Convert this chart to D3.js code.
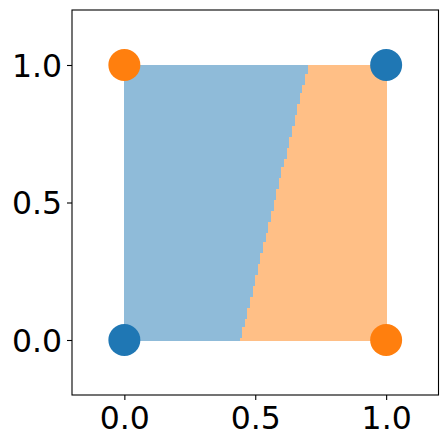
<!DOCTYPE html>
<html><head><meta charset="utf-8">
<script src="https://cdn.jsdelivr.net/npm/d3@7"></script>
<style>body{margin:0;background:#fff}svg{display:block}</style>
</head><body>
<script>
// Data
const pointsX = [0, 1, 0, 1];
const pointsY = [0, 1, 1, 0];
const pointsClass = [0, 0, 1, 1];
const classColors = ["#1f77b4", "#ff7f0e"];
const regionColors = ["#8fbbd9", "#ffbf86"];
// decision boundary: x at y=0 and y=1
const boundaryX0 = 0.443;
const boundaryX1 = 0.702;
const gridStep = 0.01;
const xTicks = [0.0, 0.5, 1.0];
const yTicks = [0.0, 0.5, 1.0];

const W = 448, H = 448;
const svg = d3.select("body").append("svg").attr("width", W).attr("height", H);
const x = d3.scaleLinear().domain([-0.2, 1.2]).range([72, 438.5]);
const y = d3.scaleLinear().domain([-0.2, 1.2]).range([395, 10]);

// grid cells
const n = Math.round(1 / gridStep);
const cells = [];
for (let j = 0; j < n; j++) {
  for (let i = 0; i < n; i++) {
    const cx = (i + 0.5) * gridStep, cy = (j + 0.5) * gridStep;
    const bx = boundaryX0 + (boundaryX1 - boundaryX0) * cy;
    cells.push({x0: i * gridStep, y0: j * gridStep, c: cx < bx ? 0 : 1});
  }
}
svg.append("g").attr("shape-rendering", "crispEdges").selectAll("rect").data(cells).join("rect")
  .attr("x", d => x(d.x0))
  .attr("y", d => y(d.y0 + gridStep))
  .attr("width", d => x(d.x0 + gridStep) - x(d.x0) + 0.5)
  .attr("height", d => y(d.y0) - y(d.y0 + gridStep) + 0.5)
  .attr("fill", d => regionColors[d.c]);

// points
svg.append("g").selectAll("circle").data(pointsX.map((v, i) => ({x: v, y: pointsY[i], c: pointsClass[i]})))
  .join("circle")
  .attr("cx", d => x(d.x)).attr("cy", d => y(d.y)).attr("r", 16)
  .attr("fill", d => classColors[d.c]);

// axes
const font = "DejaVu Sans";
const xAxis = d3.axisBottom(x).tickValues(xTicks).tickFormat(d3.format(".1f")).tickSize(5).tickPadding(5);
const yAxis = d3.axisLeft(y).tickValues(yTicks).tickFormat(d3.format(".1f")).tickSize(5).tickPadding(5);
const gx = svg.append("g").attr("transform", `translate(0,${y(-0.2)})`).call(xAxis);
const gy = svg.append("g").attr("transform", `translate(${x(-0.2)},0)`).call(yAxis);
[gx, gy].forEach(g => {
  g.select(".domain").remove();
  g.selectAll("line").attr("stroke", "#000").attr("stroke-width", 1.1);
  g.selectAll("text").attr("fill", "#000").style("font-family", font).style("font-size", "31.5px");
});
gx.selectAll("text").attr("dy", "0.76em");
gy.selectAll("text").attr("dy", "0.36em");
// frame
svg.append("rect").attr("x", x(-0.2)).attr("y", y(1.2))
  .attr("width", x(1.2) - x(-0.2)).attr("height", y(-0.2) - y(1.2))
  .attr("fill", "none").attr("stroke", "#000").attr("stroke-width", 1.1);
</script>
</body></html>
